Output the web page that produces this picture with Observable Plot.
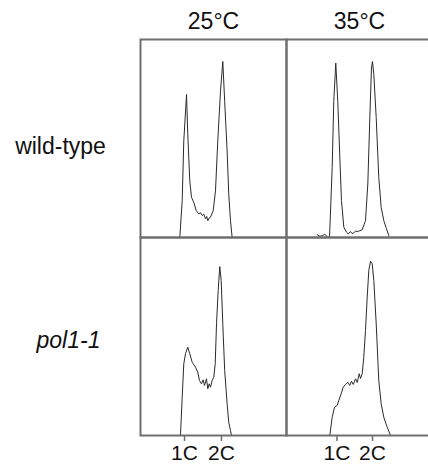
<!DOCTYPE html>
<html>
<head>
<meta charset="utf-8">
<script src="https://cdn.jsdelivr.net/npm/d3@7"></script>
<script src="https://cdn.jsdelivr.net/npm/@observablehq/plot@0.6"></script>
<style>
  html, body { margin: 0; padding: 0; background: white; overflow: hidden; width: 428px; height: 468px; }
</style>
</head>
<body>
<div id="chart"></div>
<script>
// Facet categories
const temps = ["25°C", "35°C"];
const genotypes = ["wild-type", "pol1-1"];

// DNA-content histograms (channel, relative count)
const wt25Channel = [68.9, 73.1, 75.9, 80.7, 82.9, 86.4, 89.4, 93.5, 97.7, 102.2, 105.0, 108.2, 111.0, 114.0, 116.1, 118.0, 120.2, 122.7, 127.5, 131.5, 135.5, 140.3, 144.3, 147.6, 151.9, 154.7, 157.8, 160.7];
const wt25Count   = [0, 18.6, 48.7, 72.2, 52.3, 28.6, 20.3, 17.7, 13.6, 11.9, 12.6, 11.1, 11.8, 9.4, 10.6, 8.5, 9.8, 10.2, 13.6, 23.6, 48.7, 73.9, 88.9, 68.8, 43.7, 22.1, 8.5, 0];

const wt35Channel = [53.8, 58.5, 63.1, 67.0, 71.4, 75.4, 80.1, 82.9, 86.4, 89.9, 93.5, 96.4, 100.5, 105.2, 108.5, 112.2, 115.0, 118.0, 121.0, 124.0, 128.0, 132.7, 138.5, 142.6, 146.1, 149.0, 150.8, 153.1, 157.3, 161.8, 166.0, 170.6, 175.3, 179.4];
const wt35Count   = [1.4, 0.6, 1.0, 1.6, 0.5, 0, 35.3, 68.8, 88.1, 68.8, 40.4, 18.6, 5.2, 2.7, 1.8, 3.0, 2.0, 2.4, 3.2, 3.0, 3.4, 3.9, 8.5, 27.0, 60.5, 85.6, 88.9, 82.3, 60.5, 30.3, 15.2, 8.5, 4.4, 1.0];

const pol25Channel = [70.1, 73.1, 75.9, 78.9, 82.9, 86.4, 90.6, 96.4, 100.4, 103.4, 106.9, 109.9, 112.2, 115.7, 118.0, 120.5, 122.7, 125.7, 128.5, 131.0, 133.3, 136.2, 139.0, 141.5, 144.3, 147.6, 151.9, 154.7, 157.8, 159.6];
const pol25Count   = [0, 19.3, 36.2, 41.3, 44.6, 41.3, 37.0, 34.5, 32.0, 27.8, 26.1, 28.1, 25.3, 28.6, 23.6, 26.1, 24.4, 27.8, 29.4, 36.2, 56.4, 73.2, 85.3, 78.3, 56.4, 32.8, 16.0, 6.7, 2.5, 0];

const pol35Channel = [75.9, 80.1, 84.2, 88.9, 91.7, 95.9, 99.4, 103.5, 107.5, 111.0, 114.0, 117.0, 121.0, 124.0, 127.5, 129.8, 132.7, 135.5, 138.5, 141.5, 144.3, 147.3, 150.3, 153.1, 157.3, 161.8, 166.0, 170.6, 176.6, 182.4];
const pol35Count   = [0, 9.2, 14.3, 15.2, 17.7, 21.1, 24.4, 25.8, 26.9, 25.3, 27.4, 25.8, 28.6, 26.8, 31.2, 28.8, 31.2, 39.5, 53.0, 69.8, 83.3, 88.0, 86.7, 78.3, 56.4, 27.8, 16.0, 9.2, 4.2, 0];

// Axis ticks (per temperature panel)
const tickTemp    = ["25°C", "25°C", "35°C", "35°C"];
const tickChannel = [77.2, 142.0, 88.5, 150.8];
const tickLabel   = ["1C", "2C", "1C", "2C"];

const xDomain = [0, 256];
const yDomain = [0, 100];

const series = [
  {temp: temps[0], genotype: genotypes[0], channel: wt25Channel, count: wt25Count},
  {temp: temps[1], genotype: genotypes[0], channel: wt35Channel, count: wt35Count},
  {temp: temps[0], genotype: genotypes[1], channel: pol25Channel, count: pol25Count},
  {temp: temps[1], genotype: genotypes[1], channel: pol35Channel, count: pol35Count}
];
const rows = series.flatMap(s => s.channel.map((c, i) => ({temp: s.temp, genotype: s.genotype, channel: c, count: s.count[i]})));
const ticks = tickChannel.map((c, i) => ({temp: tickTemp[i], genotype: genotypes[1], channel: c, label: tickLabel[i]}));

const frameColor = "#6e6e6e";
const font = "'Liberation Sans', Arial, Helvetica, sans-serif";

const chart = Plot.plot({
  width: 432,
  height: 468,
  marginLeft: 140,
  marginRight: 0,
  marginTop: 38,
  marginBottom: 33,
  style: {maxWidth: "none", fontFamily: font, background: "white", color: "#111"},
  x: {domain: xDomain, axis: null},
  y: {domain: yDomain, axis: null},
  fx: {domain: temps, padding: 0, axis: null},
  fy: {domain: genotypes, padding: 0, axis: null},
  marks: [
    Plot.line(rows, {x: "channel", y: "count", fx: "temp", fy: "genotype", stroke: "#2a2a2a", strokeWidth: 1}),
    Plot.frame({stroke: frameColor, strokeWidth: 2}),
    Plot.ruleX(ticks, {x: "channel", y1: () => yDomain[0], y2: () => yDomain[0], fx: "temp", fy: "genotype", insetBottom: -6, stroke: frameColor, strokeWidth: 1.5}),
    Plot.text(ticks, {x: "channel", y: () => yDomain[0], fx: "temp", fy: "genotype", text: "label", dy: 18, lineAnchor: "middle", fontSize: 21, fill: "#111"}),
    Plot.text(temps, {fx: d => d, fy: () => genotypes[0], text: d => d, frameAnchor: "top", lineAnchor: "middle", dy: -17.5, fontSize: 23, fill: "#111"}),
    Plot.text([genotypes[0]], {fy: d => d, fx: () => temps[0], text: d => d, frameAnchor: "left", lineAnchor: "middle", dx: -80, dy: 8.5, textAnchor: "middle", fontSize: 23, fill: "#111"}),
    Plot.text([genotypes[1]], {fy: d => d, fx: () => temps[0], text: d => d, frameAnchor: "left", lineAnchor: "middle", dx: -72, dy: 4, textAnchor: "middle", fontSize: 23, fontStyle: "italic", fill: "#111"})
  ]
});
document.getElementById("chart").appendChild(chart);
</script>
</body>
</html>
